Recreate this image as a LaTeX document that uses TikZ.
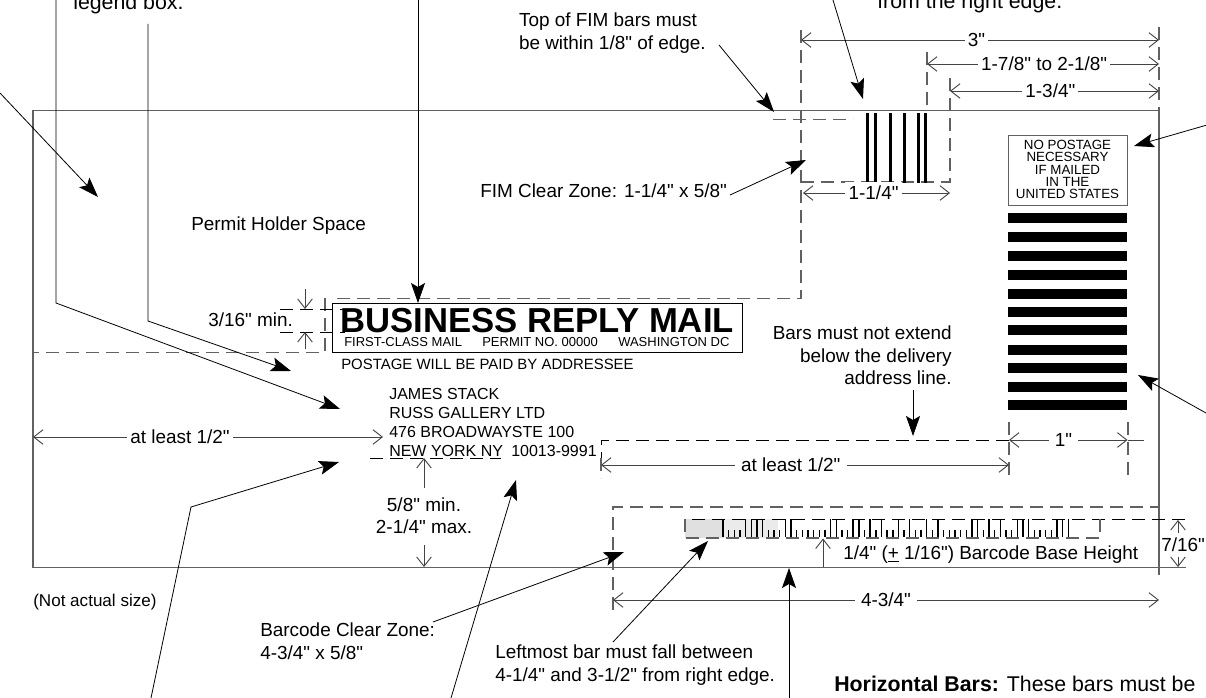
\documentclass[tikz,border=0pt]{standalone}
\usepackage{fontspec}
\setmainfont{Liberation Sans}[Ligatures=TeXOff]
\usetikzlibrary{arrows.meta}
\definecolor{ln}{gray}{0.38}
\tikzset{
  x=0.75pt,y=-0.75pt,
  edge/.style={draw=ln,line width=0.9pt},
  thinln/.style={draw=black,line width=0.6pt},
  dsh/.style={draw=ln,line width=0.8pt,dash pattern=on 9.5pt off 5.5pt},
  dshblack/.style={draw=black,line width=0.6pt,dash pattern=on 9.5pt off 5.5pt},
  dimln/.style={draw=ln!70!black,line width=0.7pt},
  dimtwo/.style={dimln,{Straight Barb[length=7pt,width=11pt]}-{Straight Barb[length=7pt,width=11pt]}},
  dimone/.style={dimln,-{Straight Barb[length=7pt,width=11pt]}},
  lead/.style={thinln,-{Stealth[length=15pt,width=10.5pt,inset=3pt]}},
  lbl/.style={inner sep=0pt,font=\fontsize{14.2}{16.6}\selectfont,align=center,text=black},
  lbll/.style={lbl,align=left},
  lblr/.style={lbl,align=right},
  big/.style={inner sep=0pt,font=\fontsize{16}{18}\selectfont,anchor=base west},
  gapnode/.style={lbl,fill=white,inner ysep=3pt},
  blackbar/.style={fill=black,draw=none},
  addr/.style={inner sep=0pt,anchor=base west,font=\fontsize{12}{14}\selectfont},
  brmsub/.style={inner sep=0pt,anchor=base west,font=\fontsize{9.75}{11}\selectfont},
}
\begin{document}
\begin{tikzpicture}
\useasboundingbox (0,0) rectangle (1206,698);
\clip (0,0) rectangle (1206,698);
% barcode shading
\fill[black!12] (685,519) rectangle (724,538);
\fill[black!8] (724,519) rectangle (778,538);
% envelope
\draw[edge] (33,567.5) -- (33,110.5) -- (1159,110.5) -- (1159,575);
\draw[edge] (33,567.5) -- (1186,567.5);
% dashed construction lines
\draw[dsh] (773,119.5) -- (853,119.5);
\draw[dsh] (801,30) -- (801,298.5) -- (330,298.5);
\draw[dsh] (325,298.5) -- (325,352.5) -- (33,352.5);
\draw[dsh] (927,52) -- (927,110);
\draw[dsh] (950,78) -- (950,182) -- (801,182);
\draw[dsh] (1159,27) -- (1159,110);
\draw[dshblack] (280,309) -- (345,309);
\draw[dshblack] (280,332) -- (345,332);
\draw[dshblack] (370,458) -- (501,458);
\draw[dshblack] (1009,440) -- (601,440) -- (601,458);
\draw[dsh] (601,458) -- (601,478);
\draw[dsh] (1009,422) -- (1009,480);
\draw[dsh] (1128,422) -- (1128,478);
\draw[dsh] (613,610) -- (613,507) -- (1159,507);
\draw[dshblack] (692,519) -- (1186,519);
\draw[dsh] (685,519) -- (685,538) -- (1100,538) -- (1100,519);
% FIM bars
\foreach \a/\b in {866/869,874/877,889/891.5,903/905.5,917/920,924/927}
  \fill[blackbar] (\a,113) rectangle (\b,183);
% horizontal bars
\foreach \a/\b in {213/223,232/242,251/261,270/280,289/299,307/317,325/335,345/355,363/373,382/392,400/410}
  \fill[blackbar] (1008,\a) rectangle (1127,\b);
% POSTNET barcode
\foreach \h [count=\i from 0] in {T,
 s,s,s,T,T, T,T,s,s,s, T,T,s,s,s, s,s,s,T,T, s,s,T,T,s,
 T,s,T,s,s, T,s,T,s,s, T,s,T,s,s, s,s,s,T,T,
 s,T,s,T,s, s,T,T,T,s, s,s,s,T,T, T}{
  \pgfmathsetmacro{\bx}{723+5.66*\i}
  \if\h T
    \draw[black,line width=1.05pt] (\bx,519) -- (\bx,537);
  \else
    \draw[black,line width=1.05pt] (\bx,530) -- (\bx,537);
  \fi
}
% BRM box
\node[draw=black,line width=0.75pt,minimum width=307.5pt,minimum height=36.5pt,inner sep=0pt,anchor=north west] (brmbox) at (332,303.5) {};
\node[inner sep=0pt,anchor=base west,font=\fontsize{26}{26}\bfseries\selectfont] (brm) at (340,332.5) {BUSINESS REPLY MAIL};
\node[brmsub] (first) at (344,347) {FIRST-CLASS MAIL};
\node[brmsub] (permit) at (482,347) {PERMIT NO. 00000};
\node[brmsub] (wash) at (618,347) {WASHINGTON DC};
\node[inner sep=0pt,anchor=base west,font=\fontsize{11.2}{13}\selectfont] (postage) at (341,369) {POSTAGE WILL BE PAID BY ADDRESSEE};
% address
\node[addr] (a1) at (389,399) {JAMES STACK};
\node[addr] (a2) at (389,418) {RUSS GALLERY LTD};
\node[addr] (a3) at (389,437) {476 BROADWAYSTE 100};
\node[addr] (a4) at (389,456) {NEW YORK NY};
\node[addr] (a5) at (511,456) {10013-9991};
% no postage
\node[draw=ln,line width=0.75pt,minimum width=89pt,minimum height=52.5pt,inner sep=0pt,anchor=north west] (npbox) at (1008,135) {};
\node[inner sep=0pt,align=center,font=\fontsize{10}{9.25}\selectfont,anchor=center] (nptext) at (1067.5,169.5) {NO POSTAGE\\NECESSARY\\IF MAILED\\IN THE\\UNITED STATES};
% dimensions
\draw[dimtwo] (801,40) -- node[gapnode,pos=0.49] (d3) {\,3"\,} (1159,40);
\draw[dimtwo] (927,64) -- node[gapnode,pos=0.505] (d178) {\,1-7/8" to 2-1/8"\,} (1159,64);
\draw[dimtwo] (950,91) -- node[gapnode,pos=0.48] (d134) {\,1-3/4"\,} (1159,91);
\draw[dimtwo] (803,193) -- node[gapnode,pos=0.48] (d114) {\,1-1/4"\,} (950,193);
\draw[dimtwo] (33,437) -- node[gapnode,pos=0.42] (dleft) {\,at least 1/2"\,} (383,437);
\draw[dimtwo] (601,465) -- node[gapnode,pos=0.465] (dmid) {\,\,at least 1/2"\,\,} (1009,465);
\draw[dimtwo] (1009,440) -- node[gapnode,pos=0.46] (d1) {\,\,1"\,\,} (1127.5,440);
\draw[dimln] (1127.5,440) -- (1144,440);
\draw[dimtwo] (613,600) -- node[gapnode,pos=0.5] (d434) {\,\,4-3/4"\,\,} (1159,600);
\draw[dimone] (305,289) -- (305,309);
\draw[dimone] (305,349) -- (305,332);
\draw[dimone] (424,488) -- (424,458);
\draw[dimone] (424,545) -- (424,567);
\draw[dimone] (823,567) -- (823,538.5);
\draw[dimone] (1178,533) -- (1178,520);
\draw[dimone] (1178,557) -- (1178,567);
% leaders
\draw[lead] (56,0) -- (56,303) -- (340,409);
\draw[lead] (148,24) -- (148,321) -- (291,371);
\draw[lead] (0,93) -- (98,197);
\draw[lead] (418,0) -- (418,303);
\draw[lead] (719,45) -- (774,112);
\draw[lead] (833,0) -- (863,99);
\draw[lead] (730,195) -- (806,160);
\draw[lead] (1207,125) -- (1134,146);
\draw[lead] (1206,413) -- (1138,375);
\draw[lead] (913,390) -- (913,436);
\draw[lead] (151,698) -- (191,507) -- (339,462);
\draw[lead] (451,698) -- (516,480);
\draw[lead] (433,622) -- (624,552);
\draw[lead] (613,642) -- (708,541);
\draw[lead] (789,698) -- (789,568);
% labels
\node[big] (legend) at (73,10) {legend box.};
\node[big] (right) at (877,9) {from the right edge.};
\node[lbll,anchor=north east] (top) at (706,13) {Top of FIM bars must\\be within 1/8" of edge.};
\node[lbl,anchor=base west] (fim) at (480,198) {FIM Clear Zone: 1-1/4" x 5/8"};
\node[lbl,anchor=base west] (permitspace) at (191,231) {Permit Holder Space};
\node[lbl,anchor=base west] (mins) at (208,327) {3/16" min.};
\node[lblr,anchor=north east] (barsnot) at (952,326) {Bars must not extend\\below the delivery\\address line.};
\node[lbl] (five) at (424,516) {5/8" min.\\2-1/4" max.};
\node[lbl,anchor=base west,font=\fontsize{12.8}{15}\selectfont] (notactual) at (33,606) {(Not actual size)};
\node[lbll,anchor=north west] (bcz) at (260,623) {Barcode Clear Zone:\\4-3/4" x 5/8"};
\node[lbll,anchor=north west] (leftmost) at (495,645) {Leftmost bar must fall between\\4-1/4" and 3-1/2" from right edge.};
\node[lbl,anchor=base west] (base) at (843,559) {1/4" (\underline{+} 1/16") Barcode Base Height};
\node[lbl,anchor=base west] (seven) at (1161,551) {7/16"};
\node[big] (horiz) at (834,691) {\textbf{Horizontal Bars:} These bars must be};
\end{tikzpicture}
\end{document}
